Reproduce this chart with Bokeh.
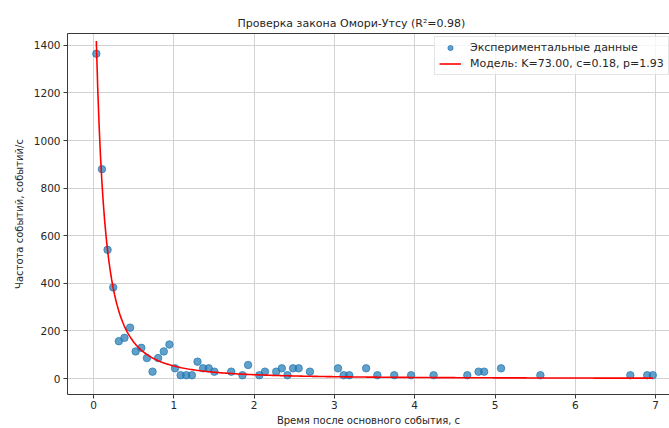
import numpy as np
from bokeh.plotting import figure
from bokeh.models import Range1d, FixedTicker, LinearAxis, Legend, LegendItem, ColumnDataSource
from bokeh.embed import file_html
from bokeh.resources import INLINE

# ---- data ----
time_s = [0.035, 0.105, 0.175, 0.245, 0.315, 0.385, 0.455, 0.525, 0.595, 0.665,
          0.735, 0.805, 0.875, 0.945, 1.015, 1.085, 1.155, 1.225, 1.295, 1.365,
          1.435, 1.505, 1.715, 1.855, 1.925, 2.065, 2.135, 2.275, 2.345, 2.415,
          2.485, 2.555, 2.695, 3.045, 3.115, 3.185, 3.395, 3.535, 3.745, 3.955,
          4.235, 4.655, 4.795, 4.865, 5.075, 5.565, 6.685, 6.895, 6.965]
rate = [1365, 880, 541, 383, 157, 171, 214, 114, 129, 86,
        29, 86, 114, 143, 43, 14, 14, 14, 71, 43,
        43, 29, 29, 14, 57, 14, 29, 29, 43, 14,
        43, 43, 29, 43, 14, 14, 43, 14, 14, 14,
        14, 14, 29, 29, 43, 14, 14, 14, 14]

# model parameters (from legend)
K_fit, c_fit, p_fit = 73.00, 0.18, 1.93
t_model = np.linspace(min(time_s), max(time_s), 400)
r_model = K_fit / (t_model + c_fit) ** p_fit

x_ticks = [0, 1, 2, 3, 4, 5, 6, 7]
y_ticks = [0, 200, 400, 600, 800, 1000, 1200, 1400]

title_text = "Проверка закона Омори-Утсу (R²=0.98)"
x_label = "Время после основного события, с"
y_label = "Частота событий, событий/с"
scatter_label = "Экспериментальные данные"
model_label = f"Модель: K={K_fit:.2f}, c={c_fit:.2f}, p={p_fit:.2f}"

FONT = "DejaVu Sans"
TXT = "#262626"
SPINE = "#3a3a3a"

p = figure(width=669, height=428, output_backend="svg", toolbar_location=None,
           x_range=Range1d(-0.324, 7.173), y_range=Range1d(-67, 1450),
           min_border_left=67, min_border_right=0, min_border_top=33, min_border_bottom=33)
p.outline_line_color = None

p.title.text = title_text
p.title.align = "left"
p.title.offset = 170
p.title.standoff = 8
p.title.text_font = FONT
p.title.text_font_size = "11px"
p.title.text_font_style = "normal"
p.title.text_color = TXT

for ax in (p.xaxis[0], p.yaxis[0]):
    ax.axis_line_color = SPINE
    ax.major_tick_line_color = SPINE
    ax.major_tick_out = 4
    ax.major_tick_in = 0
    ax.minor_tick_line_color = None
    ax.major_label_text_font = FONT
    ax.major_label_text_font_size = "10.5px"
    ax.major_label_text_color = TXT
    ax.axis_label_text_font = FONT
    ax.axis_label_text_font_size = "10px"
    ax.axis_label_text_font_style = "normal"
    ax.axis_label_text_color = TXT

p.xaxis[0].ticker = FixedTicker(ticks=x_ticks)
p.yaxis[0].ticker = FixedTicker(ticks=y_ticks)
p.xaxis[0].axis_label = x_label
p.yaxis[0].axis_label = y_label
p.xaxis[0].major_label_standoff = 2
p.xaxis[0].axis_label_standoff = 3
p.yaxis[0].major_label_standoff = 3
p.yaxis[0].axis_label_standoff = 6

top = LinearAxis(ticker=FixedTicker(ticks=[]), major_label_text_font_size="0px",
                 major_tick_out=0, major_tick_in=0, minor_tick_out=0, minor_tick_in=0,
                 major_label_standoff=0, axis_line_color=SPINE)
p.add_layout(top, "above")

p.xgrid.ticker = FixedTicker(ticks=x_ticks)
p.ygrid.ticker = FixedTicker(ticks=y_ticks)
for g in (p.xgrid[0], p.ygrid[0]):
    g.grid_line_color = "#d3d3d3"
    g.grid_line_width = 1

src = ColumnDataSource(dict(t=time_s, r=rate))
sc = p.scatter("t", "r", source=src, size=7.5, fill_color="#1f77b4", line_color="#1f77b4",
               fill_alpha=0.7, line_alpha=0.7)
ln = p.line(t_model, r_model, line_color="#ff0000", line_width=1.6)

legend = Legend(items=[LegendItem(label=scatter_label, renderers=[sc]),
                       LegendItem(label=model_label, renderers=[ln])],
                location=(367, 319))
legend.label_text_font = FONT
legend.label_text_font_size = "11px"
legend.label_text_color = TXT
legend.label_height = 13
legend.glyph_height = 13
legend.glyph_width = 22
legend.label_standoff = 9
legend.padding = 4
legend.spacing = 3
legend.margin = 0
legend.border_line_color = "#cccccc"
legend.border_line_width = 1
legend.background_fill_color = "white"
legend.background_fill_alpha = 0.8
p.add_layout(legend, "center")

open("out.html", "w").write(file_html(p, INLINE))
